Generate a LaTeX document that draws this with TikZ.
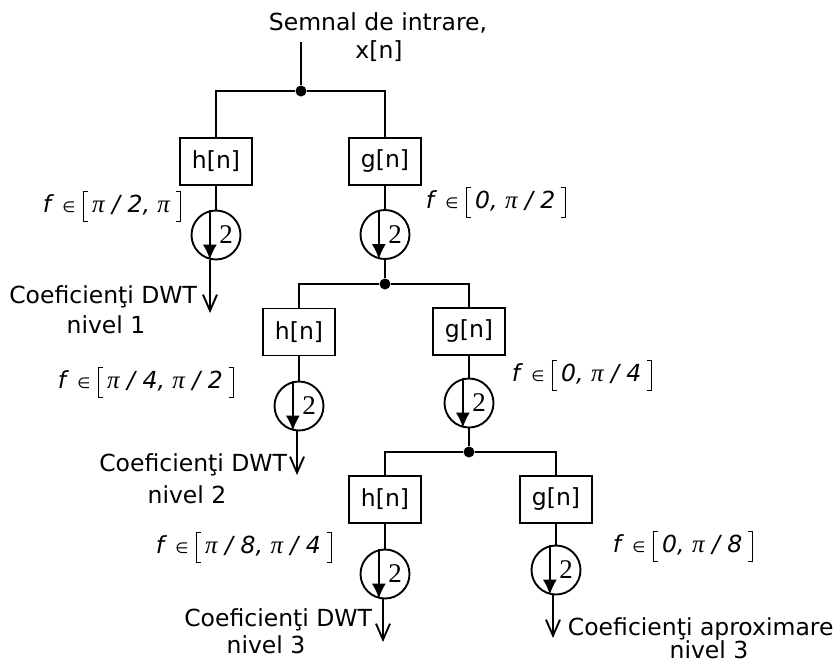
\documentclass[tikz,border=0pt]{standalone}
\usepackage{fontspec}
\setmainfont{DejaVu Sans}
\newfontfamily\digitfont{Liberation Serif}
\usetikzlibrary{arrows.meta}

% thin tall brackets for the frequency bands
\newcommand\lbr{\rule[-10pt]{0.9pt}{31pt}\kern-0.9pt\rule[-10pt]{5pt}{0.9pt}\kern-5pt\rule[20.1pt]{5pt}{0.9pt}}
\newcommand\rbr{\rule[-10pt]{5pt}{0.9pt}\kern-5pt\rule[20.1pt]{5pt}{0.9pt}\kern-0.9pt\rule[-10pt]{0.9pt}{31pt}}
\newcommand\pii{{\digitfont\itshape\fontsize{25}{28}\selectfont π}}
\newcommand\elem{{\fontsize{15}{18}\selectfont ∈}}
\newcommand\fband[1]{\textit{f}\hspace{0.35em}\elem\hspace{0.3em}\lbr\hspace{0.2em}{\itshape #1}\hspace{0.25em}\rbr}

\begin{document}
\begin{tikzpicture}[x=1pt, y=-1pt, line width=1.9pt,
  font=\fontsize{23.5}{28}\selectfont,
  filt/.style={draw, rectangle, minimum width=72pt, minimum height=47pt, inner sep=0pt},
  down/.style={draw, circle, minimum size=49pt, inner sep=0pt,
    label={[font=\digitfont\fontsize{27}{30}\selectfont, inner sep=0pt, xshift=10pt]center:2}},
  dot/.style={circle, fill, inner sep=0pt, minimum size=11pt},
  txt/.style={inner sep=0pt, anchor=base},
  txtr/.style={inner sep=0pt, anchor=base east},
  txtl/.style={inner sep=0pt, anchor=base west},
  inarr/.style={-{Latex[length=15pt,width=14pt]}},
  outarr/.style={-{Straight Barb[length=16pt,width=14pt]}}
]
\useasboundingbox (0,0) rectangle (840,665);

% input signal
\node[txt] (title1) at (378,30) {Semnal de intrare,};
\node[txt] (title2) at (379,58) {x[n]};
\coordinate (in) at (301,42);

% level 1
\node[dot] (j1) at (301,91) {};
\node[filt] (h1) at (216,161.5) {h[n]};
\node[filt] (g1) at (385,161.5) {g[n]};
\node[down] (dh1) at (216,235) {};
\node[down] (dg1) at (385,234.5) {};
\coordinate (o1) at (210,313);

% level 2
\node[dot] (j2) at (385,284) {};
\node[filt] (h2) at (299,332) {h[n]};
\node[filt] (g2) at (469,331.5) {g[n]};
\node[down] (dh2) at (299,406) {};
\node[down] (dg2) at (469,403) {};
\coordinate (o2) at (297,475);

% level 3
\node[dot] (j3) at (469,452) {};
\node[filt] (h3) at (385,499.5) {h[n]};
\node[filt] (g3) at (556,499.5) {g[n]};
\node[down] (dh3) at (385,574) {};
\node[down] (dg3) at (556,570) {};
\coordinate (o3) at (383,642);
\coordinate (o4) at (553,638);

% connectors
\draw (in) -- (j1);
\draw (h1.north) |- (j1) -| (g1.north);
\draw (h1) -- (dh1);
\draw (g1) -- (dg1);
\draw (dg1) -- (j2);
\draw (h2.north) |- (j2) -| (g2.north);
\draw (h2) -- (dh2);
\draw (g2) -- (dg2);
\draw (dg2) -- (j3);
\draw (h3.north) |- (j3) -| (g3.north);
\draw (h3) -- (dh3);
\draw (g3) -- (dg3);

% downsampling arrows inside the circles
\foreach \d in {dh1,dg1,dh2,dg2,dh3,dg3}
  \draw[inarr] (\d.104) -- (\d.256);

% outputs
\draw[outarr] (dh1.south -| o1) -- (o1);
\draw[outarr] (dh2.south -| o2) -- (o2);
\draw[outarr] (dh3.south -| o3) -- (o3);
\draw[outarr] (dg3.south -| o4) -- (o4);

% output labels
\node[txtr] (c1) at (198,303) {Coeficienţi DWT};
\node[txt] (n1) at (106,333) {nivel 1};
\node[txtr] (c2) at (288,471) {Coeficienţi DWT};
\node[txt] (n2) at (187,503) {nivel 2};
\node[txtr] (c3) at (373,626) {Coeficienţi DWT};
\node[txt] (n3) at (266,653) {nivel 3};
\node[txtl] (c4) at (567,635) {Coeficienţi aproximare};
\node[txt] (n4) at (709,658) {nivel 3};

% frequency bands
\node[txtl] (f1) at (42,212) {\fband{\pii{} / 2, \pii}};
\node[txtl] (f2) at (425,208) {\fband{0, \pii{} / 2}};
\node[txtl] (f3) at (57,388) {\fband{\pii{} / 4, \pii{} / 2}};
\node[txtl] (f4) at (511,381) {\fband{0, \pii{} / 4}};
\node[txtl] (f5) at (155,553) {\fband{\pii{} / 8, \pii{} / 4}};
\node[txtl] (f6) at (612,552) {\fband{0, \pii{} / 8}};
\end{tikzpicture}
\end{document}
